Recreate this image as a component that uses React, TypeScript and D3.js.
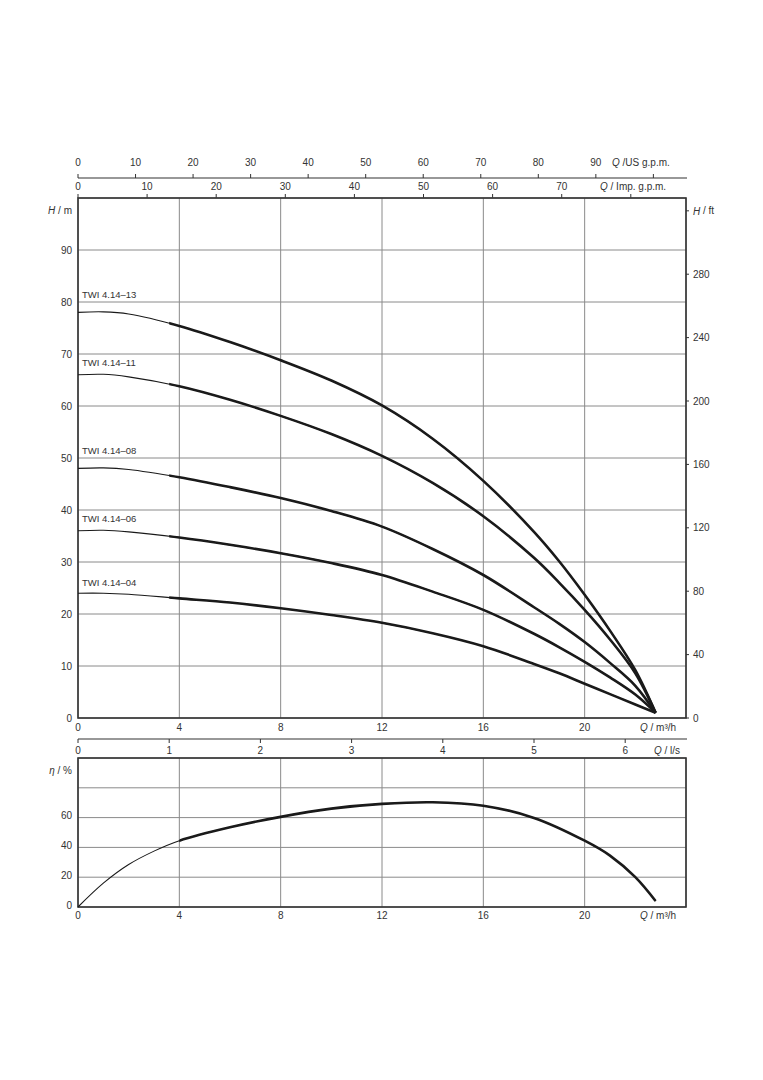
import React from "react";
import * as d3 from "d3";

// flow points (m³/h) shared by all head curves
const flowQ = [0, 1, 2, 4, 6, 8, 10, 12, 14, 16, 18, 19, 20, 21, 22, 22.8];

const models = ["TWI 4.14–13", "TWI 4.14–11", "TWI 4.14–08", "TWI 4.14–06", "TWI 4.14–04"];
const head13 = [78, 78.1, 77.7, 75.4, 72.3, 68.8, 64.9, 60.1, 53.7, 45.6, 35.8, 30.1, 23.7, 16.8, 9.2, 1];
const head11 = [66, 66.1, 65.6, 63.8, 61.2, 58.1, 54.6, 50.4, 45.2, 38.8, 30.8, 26, 20.8, 15.1, 8.6, 1];
const head08 = [48, 48.1, 47.8, 46.3, 44.4, 42.3, 39.8, 36.8, 32.5, 27.5, 21.3, 18.1, 14.6, 10.6, 6.2, 1];
const head06 = [36, 36.1, 35.8, 34.7, 33.3, 31.7, 29.8, 27.5, 24.3, 20.8, 16.2, 13.6, 10.8, 7.8, 4.5, 1];
const head04 = [24, 24, 23.8, 23, 22.2, 21.1, 19.8, 18.3, 16.3, 13.8, 10.4, 8.6, 6.6, 4.6, 2.6, 1];
const heads = [head13, head11, head08, head06, head04];
// label heights (m) for the model names
const labelH = [80.8, 67.6, 50.7, 37.6, 25.3];

const effQ = [0, 1, 2, 3, 4, 6, 8, 10, 12, 14, 16, 18, 20, 21, 22, 22.8];
const effVal = [0, 16, 28.5, 37.5, 44.5, 53.5, 60.5, 66, 69.2, 70.3, 68, 59.8, 44.5, 34.5, 20, 4];

const qTicks = [0, 4, 8, 12, 16, 20];
const hTicks = [0, 10, 20, 30, 40, 50, 60, 70, 80, 90];
const ftTicks = [0, 40, 80, 120, 160, 200, 240, 280];
const usTicks = [0, 10, 20, 30, 40, 50, 60, 70, 80, 90];
const impTicks = [0, 10, 20, 30, 40, 50, 60, 70];
const lsTicks = [0, 1, 2, 3, 4, 5, 6];
const effTicks = [0, 20, 40, 60];

const US_GPM = 0.2271247;
const IMP_GPM = 0.2727655;
const LS = 3.6;
const FT = 3.28084;

const font = "'Liberation Sans', Arial, sans-serif";
const txt = "#333";
const gridC = "#8a8a8a";
const ink = "#1a1a1a";

export default function App() {
  const left = 78;
  const right = 686;
  const x = d3.scaleLinear().domain([0, 24]).range([left, right]);
  const y = d3.scaleLinear().domain([0, 100]).range([718, 198]);
  const yFt = d3.scaleLinear().domain([0, 100 * FT]).range([718, 198]);
  const ye = d3.scaleLinear().domain([0, 100]).range([907, 758]);

  const headLine = (h: number[]) =>
    d3
      .line<number>()
      .x((_, i) => x(flowQ[i]))
      .y((d) => y(d))
      .curve(d3.curveCatmullRom.alpha(0.5))(h) || "";

  const effLine =
    d3
      .line<number>()
      .x((_, i) => x(effQ[i]))
      .y((d) => ye(d))
      .curve(d3.curveCatmullRom.alpha(0.5))(effVal) || "";

  const gridX = d3.range(0, 25, 4);
  const gridH = d3.range(0, 101, 10);
  const gridE = d3.range(0, 101, 20);

  return (
    <svg
      width={763}
      height={1080}
      style={{ position: "absolute", left: 0, top: 0, background: "#fff" }}
      fontFamily={font}
      fontSize={10}
    >
      <defs>
        <clipPath id="thickH">
          <rect x={x(3.6)} y={190} width={right - x(3.6) + 10} height={540} />
        </clipPath>
        <clipPath id="thickE">
          <rect x={x(4)} y={750} width={right - x(4) + 10} height={170} />
        </clipPath>
      </defs>

      {/* top US gpm axis */}
      <line x1={left} x2={right + 1} y1={178} y2={178} stroke={txt} strokeWidth={1.2} />
      {d3.range(0, 101, 10).map((g) => (
        <line key={"us" + g} x1={x(g * US_GPM)} x2={x(g * US_GPM)} y1={178} y2={174} stroke={txt} />
      ))}
      {usTicks.map((g) => (
        <text key={"ust" + g} x={x(g * US_GPM)} y={162} textAnchor="middle" dominantBaseline="central" fill={txt}>
          {g}
        </text>
      ))}
      <text x={612} y={162} dominantBaseline="central" fill={txt}>
        <tspan fontStyle="italic">Q</tspan> /US g.p.m.
      </text>

      {/* Imp gpm ticks on top border */}
      {d3.range(0, 81, 10).map((g) => (
        <line key={"imp" + g} x1={x(g * IMP_GPM)} x2={x(g * IMP_GPM)} y1={198} y2={194} stroke={txt} />
      ))}
      {impTicks.map((g) => (
        <text key={"impt" + g} x={x(g * IMP_GPM)} y={186} textAnchor="middle" dominantBaseline="central" fill={txt}>
          {g}
        </text>
      ))}
      <text x={600} y={186} dominantBaseline="central" fill={txt}>
        <tspan fontStyle="italic">Q</tspan> / Imp. g.p.m.
      </text>

      {/* main grid */}
      {gridX.map((q) => (
        <line key={"gx" + q} x1={x(q)} x2={x(q)} y1={198} y2={718} stroke={gridC} strokeWidth={1} />
      ))}
      {gridH.map((h) => (
        <line key={"gh" + h} x1={left} x2={right} y1={y(h)} y2={y(h)} stroke={gridC} strokeWidth={1} />
      ))}
      <rect x={left} y={198} width={right - left} height={520} fill="none" stroke={txt} strokeWidth={1.6} />

      {hTicks.map((h) => (
        <text key={"ht" + h} x={72} y={y(h)} textAnchor="end" dominantBaseline="central" fill={txt}>
          {h}
        </text>
      ))}
      <text x={72} y={210} textAnchor="end" dominantBaseline="central" fill={txt}>
        <tspan fontStyle="italic">H</tspan> / m
      </text>

      {/* right ft axis */}
      {[...ftTicks, 320].map((f) => (
        <line key={"ft" + f} x1={right} x2={right + 3} y1={yFt(f)} y2={yFt(f)} stroke={txt} />
      ))}
      {ftTicks.map((f) => (
        <text key={"ftt" + f} x={693} y={yFt(f)} dominantBaseline="central" fill={txt}>
          {f}
        </text>
      ))}
      <text x={693} y={yFt(320)} dominantBaseline="central" fill={txt}>
        <tspan fontStyle="italic">H</tspan> / ft
      </text>

      {/* head curves */}
      {heads.map((h, i) => (
        <g key={models[i]}>
          <path d={headLine(h)} fill="none" stroke={ink} strokeWidth={1.1} />
          <path d={headLine(h)} fill="none" stroke={ink} strokeWidth={2.6} clipPath="url(#thickH)" />
          <text x={82} y={y(labelH[i])} fontSize={9.5} fill={txt}>
            {models[i]}
          </text>
        </g>
      ))}

      {/* m³/h labels */}
      {qTicks.map((q) => (
        <text key={"qt" + q} x={x(q)} y={727} textAnchor="middle" dominantBaseline="central" fill={txt}>
          {q}
        </text>
      ))}
      <text x={640} y={727} dominantBaseline="central" fill={txt}>
        <tspan fontStyle="italic">Q</tspan> / m³/h
      </text>

      {/* l/s axis */}
      <line x1={left} x2={right + 1} y1={739} y2={739} stroke={txt} strokeWidth={1.2} />
      {lsTicks.map((l) => (
        <line key={"ls" + l} x1={x(l * LS)} x2={x(l * LS)} y1={739} y2={743} stroke={txt} />
      ))}
      {lsTicks.map((l) => (
        <text key={"lst" + l} x={x(l * LS)} y={750} textAnchor="middle" dominantBaseline="central" fill={txt}>
          {l}
        </text>
      ))}
      <text x={654} y={750} dominantBaseline="central" fill={txt}>
        <tspan fontStyle="italic">Q</tspan> / l/s
      </text>

      {/* efficiency chart */}
      {gridX.map((q) => (
        <line key={"egx" + q} x1={x(q)} x2={x(q)} y1={758} y2={907} stroke={gridC} strokeWidth={1} />
      ))}
      {gridE.map((e) => (
        <line key={"ege" + e} x1={left} x2={right} y1={ye(e)} y2={ye(e)} stroke={gridC} strokeWidth={1} />
      ))}
      <rect x={left} y={758} width={right - left} height={149} fill="none" stroke={txt} strokeWidth={1.6} />
      {effTicks.map((e) => (
        <text key={"et" + e} x={72} y={ye(e) - 2} textAnchor="end" dominantBaseline="central" fill={txt}>
          {e}
        </text>
      ))}
      <text x={72} y={770} textAnchor="end" dominantBaseline="central" fill={txt}>
        <tspan fontStyle="italic">η</tspan> / %
      </text>
      <path d={effLine} fill="none" stroke={ink} strokeWidth={1.1} />
      <path d={effLine} fill="none" stroke={ink} strokeWidth={2.6} clipPath="url(#thickE)" />

      {qTicks.map((q) => (
        <text key={"eqt" + q} x={x(q)} y={915} textAnchor="middle" dominantBaseline="central" fill={txt}>
          {q}
        </text>
      ))}
      <text x={640} y={915} dominantBaseline="central" fill={txt}>
        <tspan fontStyle="italic">Q</tspan> / m³/h
      </text>
    </svg>
  );
}
